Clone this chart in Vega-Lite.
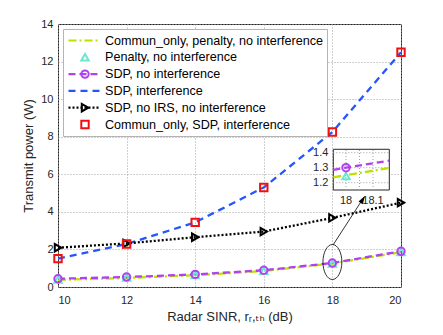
{
  "$schema": "https://vega.github.io/schema/vega-lite/v6.json",
  "width": 343,
  "height": 263,
  "autosize": "none",
  "padding": {"left": 58, "top": 24, "right": 42, "bottom": 48},
  "background": "white",
  "config": {
    "view": {"stroke": "#262626", "strokeWidth": 1},
    "axis": {
      "domain": false,
      "ticks": false,
      "grid": true,
      "gridColor": "#a0a0a0",
      "gridDash": [1, 2],
      "gridWidth": 1,
      "labelFont": "Liberation Sans",
      "labelFontSize": 11,
      "labelColor": "#262626",
      "labelPadding": 5,
      "titleFont": "Liberation Sans, DejaVu Sans",
      "titleFontSize": 13,
      "titleFontWeight": "normal",
      "titleColor": "#262626",
      "titlePadding": 5
    }
  },
  "layer": [
    {
      "data": {
        "values": [
          {"series": "Commun_only, penalty, no interference", "x": 10, "y": 0.38},
          {"series": "Commun_only, penalty, no interference", "x": 12, "y": 0.48},
          {"series": "Commun_only, penalty, no interference", "x": 14, "y": 0.63},
          {"series": "Commun_only, penalty, no interference", "x": 16, "y": 0.85},
          {"series": "Commun_only, penalty, no interference", "x": 18, "y": 1.25},
          {"series": "Commun_only, penalty, no interference", "x": 20, "y": 1.85},
          {"series": "Penalty, no interference", "x": 10, "y": 0.40},
          {"series": "Penalty, no interference", "x": 12, "y": 0.50},
          {"series": "Penalty, no interference", "x": 14, "y": 0.64},
          {"series": "Penalty, no interference", "x": 16, "y": 0.86},
          {"series": "Penalty, no interference", "x": 18, "y": 1.25},
          {"series": "Penalty, no interference", "x": 20, "y": 1.86},
          {"series": "SDP, no interference", "x": 10, "y": 0.44},
          {"series": "SDP, no interference", "x": 12, "y": 0.53},
          {"series": "SDP, no interference", "x": 14, "y": 0.67},
          {"series": "SDP, no interference", "x": 16, "y": 0.89},
          {"series": "SDP, no interference", "x": 18, "y": 1.28},
          {"series": "SDP, no interference", "x": 20, "y": 1.90},
          {"series": "SDP, interference", "x": 10, "y": 1.51},
          {"series": "SDP, interference", "x": 12, "y": 2.29},
          {"series": "SDP, interference", "x": 14, "y": 3.44},
          {"series": "SDP, interference", "x": 16, "y": 5.30},
          {"series": "SDP, interference", "x": 18, "y": 8.25},
          {"series": "SDP, interference", "x": 20, "y": 12.5},
          {"series": "SDP, no IRS, no interference", "x": 10, "y": 2.09},
          {"series": "SDP, no IRS, no interference", "x": 12, "y": 2.32},
          {"series": "SDP, no IRS, no interference", "x": 14, "y": 2.65},
          {"series": "SDP, no IRS, no interference", "x": 16, "y": 2.95},
          {"series": "SDP, no IRS, no interference", "x": 18, "y": 3.68},
          {"series": "SDP, no IRS, no interference", "x": 20, "y": 4.49},
          {"series": "Commun_only, SDP, interference", "x": 10, "y": 1.51},
          {"series": "Commun_only, SDP, interference", "x": 12, "y": 2.29},
          {"series": "Commun_only, SDP, interference", "x": 14, "y": 3.44},
          {"series": "Commun_only, SDP, interference", "x": 16, "y": 5.30},
          {"series": "Commun_only, SDP, interference", "x": 18, "y": 8.25},
          {"series": "Commun_only, SDP, interference", "x": 20, "y": 12.5}
        ]
      },
      "encoding": {
        "x": {
          "field": "x", "type": "quantitative",
          "scale": {"domain": [10, 20], "nice": false},
          "axis": {"values": [10, 12, 14, 16, 18, 20], "title": "Radar SINR, rᵣ,ₜₕ (dB)", "labelPadding": 7}
        },
        "y": {
          "field": "y", "type": "quantitative",
          "scale": {"domain": [0, 14], "nice": false},
          "axis": {"values": [0, 2, 4, 6, 8, 10, 12, 14], "title": "Transmit power (W)"}
        }
      },
      "layer": [
        {
          "transform": [{"filter": {"field": "series", "oneOf": ["Commun_only, penalty, no interference", "SDP, no interference", "SDP, interference", "SDP, no IRS, no interference"]}}],
          "mark": {"type": "line", "strokeWidth": 2.3},
          "encoding": {
            "stroke": {
              "field": "series", "type": "nominal",
              "scale": {
                "domain": ["Commun_only, penalty, no interference", "Penalty, no interference", "SDP, no interference", "SDP, interference", "SDP, no IRS, no interference", "Commun_only, SDP, interference"],
                "range": ["#bfe000", "transparent", "#b040f0", "#2456ff", "#000000", "transparent"]
              },
              "legend": {
                "orient": "top-left", "offset": 5, "title": null,
                "symbolType": "stroke", "symbolSize": 1024, "symbolStrokeWidth": 2.2,
                "clipHeight": 15, "rowPadding": 1.8,
                "labelFont": "Liberation Sans", "labelFontSize": 12.6, "labelColor": "#000000",
                "labelOffset": 3, "labelLimit": 400, "padding": 4,
                "strokeColor": "#b4b4b4", "fillColor": "white"
              }
            },
            "strokeDash": {
              "field": "series", "type": "nominal",
              "scale": {
                "domain": ["Commun_only, penalty, no interference", "Penalty, no interference", "SDP, no interference", "SDP, interference", "SDP, no IRS, no interference", "Commun_only, SDP, interference"],
                "range": [[8, 3, 2, 3], [1, 0], [7, 4], [7, 5], [2, 2], [1, 0]]
              },
              "legend": {"orient": "top-left", "offset": 5, "title": null}
            }
          }
        },
        {
          "transform": [{"filter": {"field": "series", "oneOf": ["Penalty, no interference", "SDP, no interference", "SDP, no IRS, no interference", "Commun_only, SDP, interference"]}}],
          "mark": {"type": "point", "filled": false, "strokeWidth": 2, "size": 55, "opacity": 1},
          "encoding": {
            "color": {
              "field": "series", "type": "nominal",
              "scale": {
                "domain": ["Commun_only, penalty, no interference", "Penalty, no interference", "SDP, no interference", "SDP, interference", "SDP, no IRS, no interference", "Commun_only, SDP, interference", " "],
                "range": ["transparent", "#6ae6d2", "#b040f0", "transparent", "#000000", "#f01010", "transparent"]
              },
              "legend": {
                "orient": "none", "legendX": 17, "legendY": 5, "title": null,
                "symbolSize": 55, "symbolStrokeWidth": 2,
                "clipHeight": 15, "rowPadding": 1.8,
                "labelFont": "Liberation Sans", "labelFontSize": 12, "labelOpacity": 0,
                "labelOffset": 3, "labelLimit": 400, "padding": 4
              }
            },
            "shape": {
              "field": "series", "type": "nominal",
              "scale": {
                "domain": ["Commun_only, penalty, no interference", "Penalty, no interference", "SDP, no interference", "SDP, interference", "SDP, no IRS, no interference", "Commun_only, SDP, interference", " "],
                "range": ["circle", "triangle-up", "circle", "circle", "triangle-right", "square", "circle"]
              },
              "legend": {"orient": "none", "legendX": 17, "legendY": 5, "title": null, "labelOpacity": 0, "clipHeight": 15, "rowPadding": 1.8, "labelFontSize": 12, "padding": 4}
            }
          }
        },
        {
          "data": {"values": [{"x": 18, "y": 1.33}]},
          "mark": {"type": "point", "shape": "M-0.54,0A0.54,1 0 1,0 0.54,0A0.54,1 0 1,0 -0.54,0Z", "size": 1225, "filled": false, "color": "#000000", "strokeWidth": 0.8, "opacity": 1}
        },
        {
          "data": {"values": [{"x": 18.02, "y": 2.24, "x2": 18.92, "y2": 4.78}]},
          "mark": {"type": "rule", "color": "#000000", "strokeWidth": 0.8},
          "encoding": {"x2": {"field": "x2"}, "y2": {"field": "y2"}}
        },
        {
          "data": {"values": [{"x": 18.95, "y": 4.84}]},
          "mark": {"type": "point", "shape": "M0,0L-0.32,1L0.32,1Z", "size": 256, "angle": 33, "filled": true, "color": "#000000", "opacity": 1}
        }
      ]
    },
    {
      "encoding": {
        "x": {"field": "x", "type": "quantitative", "scale": {"domain": [16.9333, 18.2037], "nice": false, "zero": false}, "axis": null},
        "y": {"field": "y", "type": "quantitative", "scale": {"domain": [0.5047, 2.258], "nice": false, "zero": false}, "axis": null}
      },
      "layer": [
        {
          "data": {"values": [{"x": 18.0567, "y": 1.287}]},
          "mark": {"type": "point", "shape": "M-1,-0.727L1,-0.727L1,0.727L-1,0.727Z", "size": 3136, "filled": true, "fill": "#ffffff", "stroke": "#262626", "strokeWidth": 1, "opacity": 1}
        },
        {
          "data": {"values": [
            {"g": "v1", "x": 18, "y": 1.1513}, {"g": "v1", "x": 18, "y": 1.4227},
            {"g": "v2", "x": 18.05, "y": 1.1513}, {"g": "v2", "x": 18.05, "y": 1.4227},
            {"g": "v3", "x": 18.1, "y": 1.1513}, {"g": "v3", "x": 18.1, "y": 1.4227},
            {"g": "h1", "x": 17.953, "y": 1.2}, {"g": "h1", "x": 18.1604, "y": 1.2},
            {"g": "h2", "x": 17.953, "y": 1.3}, {"g": "h2", "x": 18.1604, "y": 1.3},
            {"g": "h3", "x": 17.953, "y": 1.4}, {"g": "h3", "x": 18.1604, "y": 1.4}
          ]},
          "mark": {"type": "line", "color": "#a0a0a0", "strokeWidth": 1, "strokeDash": [1, 2]},
          "encoding": {"detail": {"field": "g"}}
        },
        {
          "data": {"values": [{"x": 17.953, "y": 1.236}, {"x": 18, "y": 1.25}, {"x": 18.1604, "y": 1.298}]},
          "mark": {"type": "line", "color": "#bfe000", "strokeWidth": 2.3, "strokeDash": [8, 3, 2, 3]}
        },
        {
          "data": {"values": [{"x": 17.953, "y": 1.286}, {"x": 18, "y": 1.30}, {"x": 18.1604, "y": 1.347}]},
          "mark": {"type": "line", "color": "#b040f0", "strokeWidth": 2.3, "strokeDash": [7, 4]}
        },
        {
          "data": {"values": [{"x": 18, "y": 1.245}]},
          "mark": {"type": "point", "shape": "triangle-up", "filled": false, "color": "#6ae6d2", "strokeWidth": 2, "size": 55, "opacity": 1}
        },
        {
          "data": {"values": [{"x": 18, "y": 1.30}]},
          "mark": {"type": "point", "shape": "circle", "filled": false, "color": "#b040f0", "strokeWidth": 2, "size": 55, "opacity": 1}
        },
        {
          "data": {"values": [{"x": 17.953, "y": 1.2, "t": "1.2"}, {"x": 17.953, "y": 1.3, "t": "1.3"}, {"x": 17.953, "y": 1.4, "t": "1.4"}]},
          "mark": {"type": "text", "align": "right", "baseline": "middle", "dx": -5, "font": "Liberation Sans", "fontSize": 11, "color": "#262626"},
          "encoding": {"text": {"field": "t"}}
        },
        {
          "data": {"values": [{"x": 18, "y": 1.1513, "t": "18"}, {"x": 18.1, "y": 1.1513, "t": "18.1"}]},
          "mark": {"type": "text", "align": "center", "baseline": "middle", "dy": 11, "font": "Liberation Sans", "fontSize": 11, "color": "#262626"},
          "encoding": {"text": {"field": "t"}}
        }
      ]
    }
  ],
  "resolve": {"scale": {"x": "independent", "y": "independent"}}
}
